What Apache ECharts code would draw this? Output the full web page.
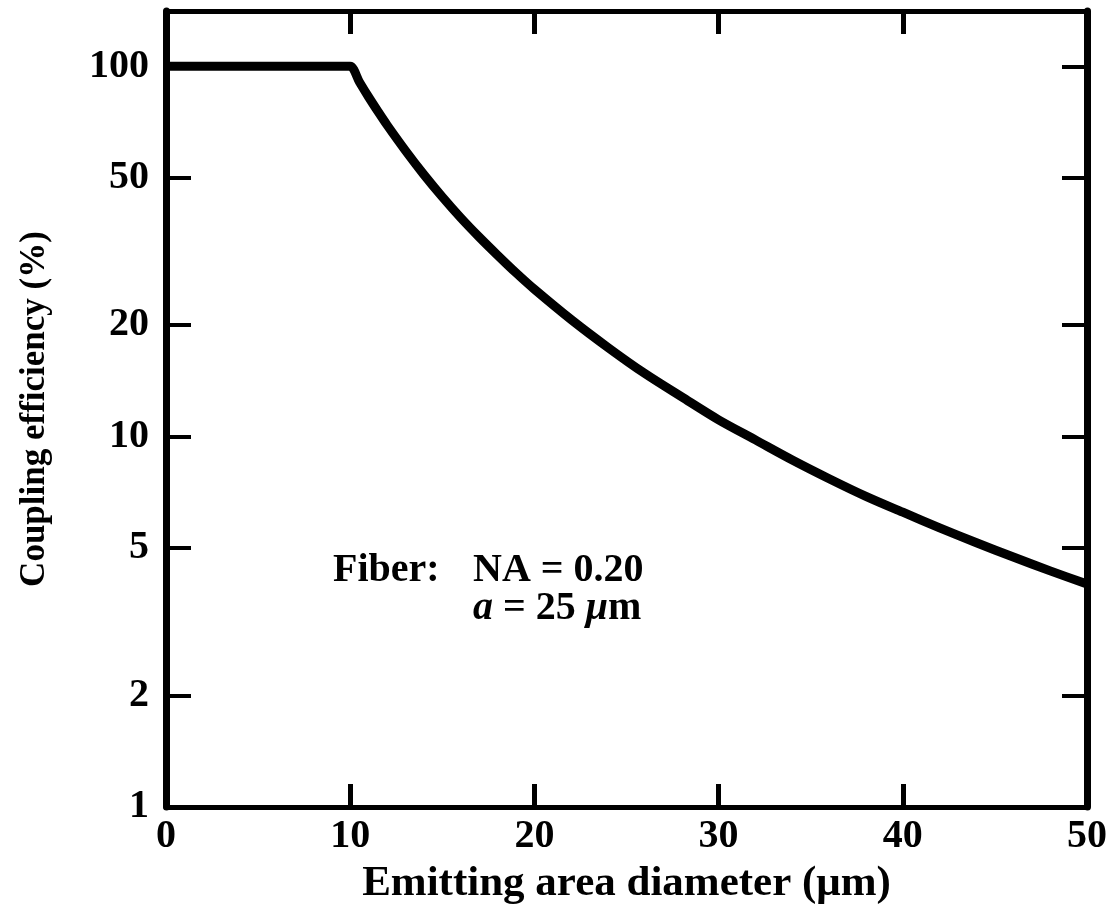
<!DOCTYPE html>
<html>
<head>
<meta charset="utf-8">
<title>Coupling efficiency vs emitting area diameter</title>
<script src="https://cdn.jsdelivr.net/npm/echarts@6/dist/echarts.min.js"></script>
<style>
    html, body { margin: 0; padding: 0; background: #fff; }
    #chart { width: 1118px; height: 904px; }
</style>
</head>
<body>
<div id="chart"></div>
<script>
// ----------------------------------------------------------------------------
// Data: emitting area diameter (um) vs coupling efficiency (%)
// ----------------------------------------------------------------------------
const diameter   = [0, 9.5, 10, 10.5, 11, 11.5, 12, 13, 14, 15, 16, 17, 18, 19, 20, 22, 24, 26, 28, 30, 32, 34, 36, 38, 40, 42, 44, 46, 48, 50];
const efficiency = [100, 100, 100, 90.7, 82.6, 75.6, 69.4, 59.2, 51, 44.4, 39, 34.6, 30.9, 27.7, 25, 20.7, 17.4, 14.8, 12.8, 11.1, 9.8, 8.65, 7.7, 6.9, 6.25, 5.67, 5.17, 4.73, 4.34, 4.0];

const yTickValues = [1, 2, 5, 10, 20, 50, 100];
const xTickStep = 10;

const serif = "'Liberation Serif', 'DejaVu Serif', serif";
const ink = '#000';

const chart = echarts.init(document.getElementById('chart'));

const points = diameter.map((d, i) => [d, efficiency[i]]);

// shared look for the frame axes
function frameX(position, showLabel) {
    return {
        type: 'value',
        position: position,
        min: 0,
        max: 50,
        interval: xTickStep,
        axisLine: { show: true, onZero: false, lineStyle: { color: ink, width: 5 } },
        axisTick: { show: true, inside: true, length: 23, lineStyle: { color: ink, width: 5 } },
        axisLabel: {
            show: showLabel,
            margin: 10,
            color: ink,
            fontFamily: serif,
            fontWeight: 'bold',
            fontSize: 40
        },
        splitLine: { show: false }
    };
}

function frameY(position, showLabel) {
    return {
        type: 'log',
        logBase: 10,
        position: position,
        min: 1,
        max: 141,
        axisLine: { show: true, onZero: false, lineStyle: { color: ink, width: 7 } },
        axisTick: {
            show: true, inside: true, length: 25,
            customValues: yTickValues,
            lineStyle: { color: ink, width: 4 }
        },
        axisLabel: {
            show: showLabel,
            margin: 17,
            customValues: yTickValues,
            color: ink,
            fontFamily: serif,
            fontWeight: 'bold',
            fontSize: 40
        },
        splitLine: { show: false },
        minorTick: { show: false }
    };
}

const xBottom = frameX('bottom', true);
xBottom.name = 'Emitting area diameter (\u03bcm)';
xBottom.nameLocation = 'middle';
xBottom.nameGap = 52;
xBottom.nameTextStyle = { color: ink, fontFamily: serif, fontWeight: 'bold', fontSize: 43 };

const yLeft = frameY('left', true);
yLeft.name = 'Coupling efficiency (%)';
yLeft.nameLocation = 'middle';
yLeft.nameGap = 114;
yLeft.nameTextStyle = { color: ink, fontFamily: serif, fontWeight: 'bold', fontSize: 35 };

const option = {
    backgroundColor: '#fff',
    animation: false,
    grid: { left: 166, right: 31, top: 11, bottom: 97, containLabel: false, outerBoundsMode: 'none' },
    xAxis: [xBottom, frameX('top', false)],
    yAxis: [yLeft, frameY('right', false)],
    series: [{
        type: 'line',
        xAxisIndex: 0,
        yAxisIndex: 0,
        data: points,
        showSymbol: false,
        smooth: 0.3,
        lineStyle: { color: ink, width: 9, cap: 'butt', join: 'round' }
    }],
    graphic: [
        {
            type: 'text',
            left: 333,
            top: 551,
            style: { text: 'Fiber:', fill: ink, font: 'bold 40px ' + serif }
        },
        {
            type: 'text',
            left: 473,
            top: 551,
            style: {
                text: 'NA = 0.20\n{it|a} = 25 {it|\u03bc}m',
                fill: ink,
                fontFamily: serif,
                fontWeight: 'bold',
                fontSize: 40,
                lineHeight: 38,
                rich: {
                    it: { fontFamily: serif, fontWeight: 'bold', fontStyle: 'italic', fontSize: 40, lineHeight: 38, fill: ink }
                }
            }
        }
    ]
};

chart.setOption(option);
</script>
</body>
</html>
